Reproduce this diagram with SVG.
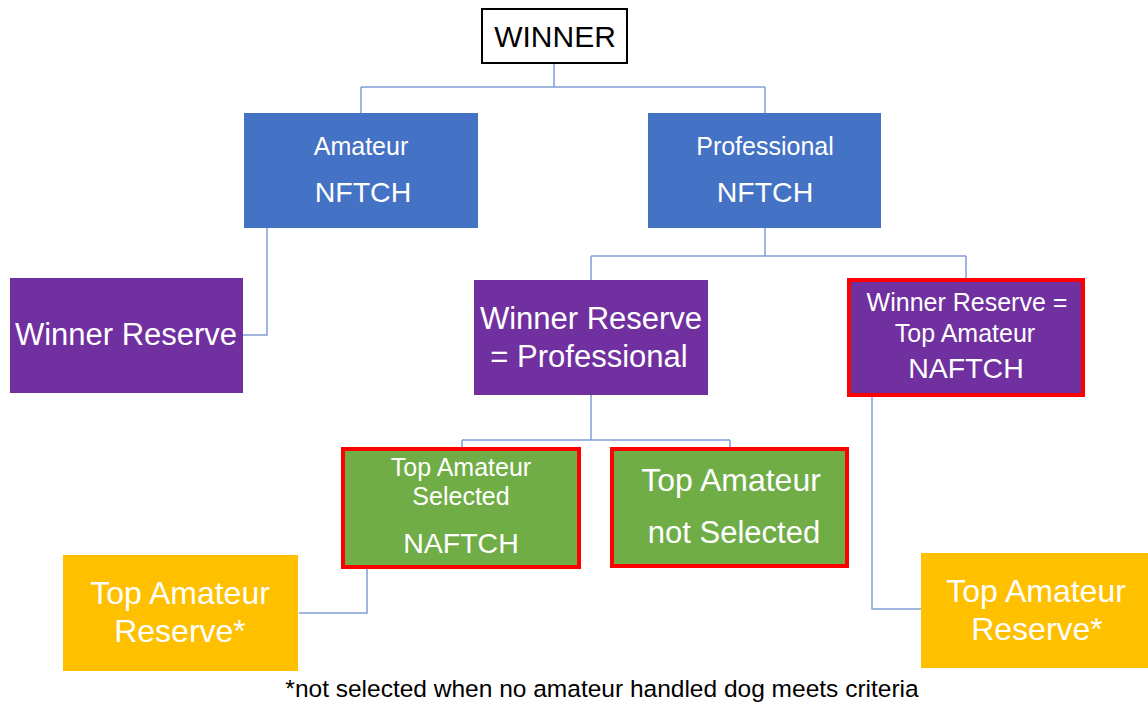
<svg xmlns="http://www.w3.org/2000/svg" width="1148" height="706" viewBox="0 0 1148 706">
<style>
.t{font-family:"Liberation Sans",Arial,sans-serif;fill:#fff;text-anchor:middle}
.s{font-size:25px}
.l{font-size:32px}
.n{font-size:28.5px}
.blue{fill:#4472C4}
.purple{fill:#7030A0}
.green{fill:#70AD47}
.gold{fill:#FFC000}
.red{stroke:#FF0000;stroke-width:4}
.c{fill:none;stroke:#7F9ED6;stroke-width:1.5}
</style>
<rect width="1148" height="706" fill="#fff"/>
<g id="connectors">
<path class="c" d="M554 63V87M361 87H765M361 87V113M765 87V113"/>
<path class="c" d="M267 228V335H243"/>
<path class="c" d="M765 228V256M591 256H966M591 256V280M966 256V279"/>
<path class="c" d="M591 395V440M462 440H730M462 440V448M730 440V448"/>
<path class="c" d="M367 567V613H299"/>
<path class="c" d="M872 396V609H921"/>
</g>
<g id="winner">
<rect x="482" y="9" width="145" height="54" fill="#fff" stroke="#000" stroke-width="2"/>
<text class="t" x="555" y="47" font-size="30" style="fill:#000">WINNER</text>
</g>
<g id="amateur">
<rect class="blue" x="244" y="113" width="234" height="115"/>
<text class="t s" x="361" y="155">Amateur</text>
<text class="t n" x="363" y="202">NFTCH</text>
</g>
<g id="professional">
<rect class="blue" x="648" y="113" width="233" height="115"/>
<text class="t s" x="765" y="155">Professional</text>
<text class="t n" x="765" y="202">NFTCH</text>
</g>
<g id="winner-reserve">
<rect class="purple" x="10" y="278" width="233" height="115"/>
<text class="t" x="126" y="345" font-size="31">Winner Reserve</text>
</g>
<g id="winner-reserve-pro">
<rect class="purple" x="474" y="280" width="234" height="115"/>
<text class="t" x="591" y="329" font-size="31">Winner Reserve</text>
<text class="t" x="589" y="367" font-size="31">= Professional</text>
</g>
<g id="winner-reserve-top-amateur">
<rect class="purple red" x="849" y="280" width="234" height="115"/>
<text class="t s" x="967" y="311">Winner Reserve =</text>
<text class="t s" x="965" y="342">Top Amateur</text>
<text class="t n" x="966" y="378">NAFTCH</text>
</g>
<g id="top-amateur-selected">
<rect class="green red" x="343" y="449" width="236" height="118"/>
<text class="t s" x="461" y="476">Top Amateur</text>
<text class="t s" x="461" y="505">Selected</text>
<text class="t n" x="461" y="553">NAFTCH</text>
</g>
<g id="top-amateur-not-selected">
<rect class="green red" x="612" y="449" width="235" height="117"/>
<text class="t l" x="731" y="491">Top Amateur</text>
<text class="t" x="734" y="543" font-size="31">not Selected</text>
</g>
<g id="top-amateur-reserve-left">
<rect class="gold" x="63" y="555" width="235" height="116"/>
<text class="t l" x="180" y="604">Top Amateur</text>
<text class="t l" x="180" y="642">Reserve*</text>
</g>
<g id="top-amateur-reserve-right">
<rect class="gold" x="921" y="553" width="227" height="115"/>
<text class="t l" x="1036" y="602">Top Amateur</text>
<text class="t l" x="1037" y="640">Reserve*</text>
</g>
<text x="602" y="697" font-family="Liberation Sans,Arial,sans-serif" font-size="24.5" text-anchor="middle" fill="#000">*not selected when no amateur handled dog meets criteria</text>
</svg>
